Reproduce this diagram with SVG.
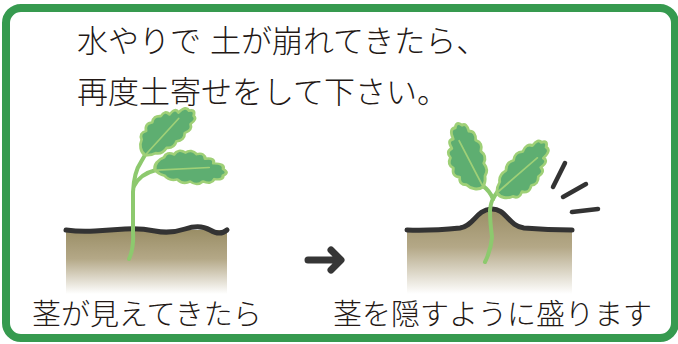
<svg xmlns="http://www.w3.org/2000/svg" width="678" height="344" viewBox="0 0 678 344">
  <defs>
    <linearGradient id="soil" x1="0" y1="0" x2="0" y2="1">
      <stop offset="0" stop-color="#9a8e66"/>
      <stop offset="0.45" stop-color="#b4a887"/>
      <stop offset="1" stop-color="#ffffff"/>
    </linearGradient>
    <!-- oak-like leaf, base at origin, tip toward +x -->
    <path id="leaf" d="M0,0 C-2,-10 4,-20 12,-24 Q16,-36 26,-30 Q32,-42 42,-34 Q50,-42 58,-32 Q69,-36 70,-24 Q84,-27 82,-16 Q98,-17 96,-6 Q105,0 96,6 Q97,15 84,13 Q80,24 68,18 Q60,28 50,19 Q40,26 32,16 Q20,20 14,10 Q6,8 0,0 Z"/>
    <path id="rib" d="M3,0 Q40,-4 76,-8"/>
  </defs>
  <style>
    .frame { fill: #ffffff; stroke: #369a4f; stroke-width: 8; }
    .txt { font-family: "Noto Sans CJK JP", "Noto Sans", sans-serif; font-weight: 300; fill: #231815; }
    .title { font-size: 31px; }
    .label { font-size: 29px; }
    .ground { stroke: #333333; stroke-width: 5; fill: none; stroke-linecap: round; stroke-linejoin: round; }
    .stem { stroke: #8dc96e; stroke-width: 4; fill: none; stroke-linecap: round; stroke-linejoin: round; }
    .leaf { fill: #5eae71; stroke: #9fd077; stroke-width: 4.5; stroke-linejoin: round; vector-effect: non-scaling-stroke; }
    .rib { fill: none; stroke: #9fd077; stroke-width: 3; stroke-linecap: round; vector-effect: non-scaling-stroke; }
    .dash { stroke: #333333; stroke-width: 4.5; stroke-linecap: round; }
    .arrow { stroke: #363636; stroke-width: 7; fill: none; stroke-linecap: round; stroke-linejoin: round; }
  </style>

  <rect width="678" height="344" fill="#ffffff"/>
  <rect class="frame" x="6" y="8" width="669" height="330" rx="15"/>

  <g id="title" class="txt title">
    <text x="77" y="52">水やりで<tspan dx="9">土が崩れてきたら、</tspan></text>
    <text x="77" y="103">再度土寄せをして下さい。</text>
  </g>

  <!-- before: stem exposed -->
  <g id="before">
    <rect x="66" y="230" width="161" height="64" fill="url(#soil)"/>
    <path class="ground" d="M66,230 Q80,232 95,231 T125,229 T155,231 T185,229 T210,230 T227,230"/>
    <path class="stem" d="M129,259 Q134,248 133,232 L133,192 Q134,172 141,162 L145,155"/>
    <path class="stem" d="M134,186 Q140,174 156,170"/>
    <g transform="translate(145,155) rotate(-42) scale(0.65,0.57)">
      <use href="#leaf" class="leaf"/>
      <use href="#rib" class="rib"/>
    </g>
    <g transform="translate(155,170) rotate(2) scale(0.71,0.54)">
      <use href="#leaf" class="leaf"/>
      <use href="#rib" class="rib"/>
    </g>
    <text class="txt label" x="32" y="325">茎が見えてきたら</text>
  </g>

  <!-- after: soil heaped around the stem -->
  <g id="after">
    <path d="M407,230 Q430,231 460,228 C474,226 476,210 491,209 C506,208 508,226 524,228 Q548,230 572,230 L572,294 L407,294 Z" fill="url(#soil)"/>
    <path class="ground" d="M407,230 Q430,231 460,228 C474,226 476,210 491,209 C506,208 508,226 524,228 Q548,230 572,230"/>
    <path class="stem" d="M485,262 Q491,250 492,237 Q490,222 490,210 Q491,202 493,199"/>
    <path class="stem" d="M493,199 Q490,191 483,186"/>
    <path class="stem" d="M493,199 Q495,195 498,191"/>
    <g transform="translate(483,187) rotate(-112) scale(0.68,0.6)">
      <use href="#leaf" class="leaf"/>
      <use href="#rib" class="rib"/>
    </g>
    <g transform="translate(497,193) rotate(-46) scale(0.7,-0.57)">
      <use href="#leaf" class="leaf"/>
      <use href="#rib" class="rib"/>
    </g>
    <line class="dash" x1="553" y1="187" x2="565" y2="163"/>
    <line class="dash" x1="563" y1="197" x2="586" y2="184"/>
    <line class="dash" x1="572" y1="212" x2="598" y2="209"/>
    <text class="txt label" x="333" y="325">茎を隠すように盛ります</text>
  </g>

  <g id="connectors">
    <path class="arrow" d="M308,260 L340,260 M331,250 L341,260 L331,270"/>
  </g>
</svg>
